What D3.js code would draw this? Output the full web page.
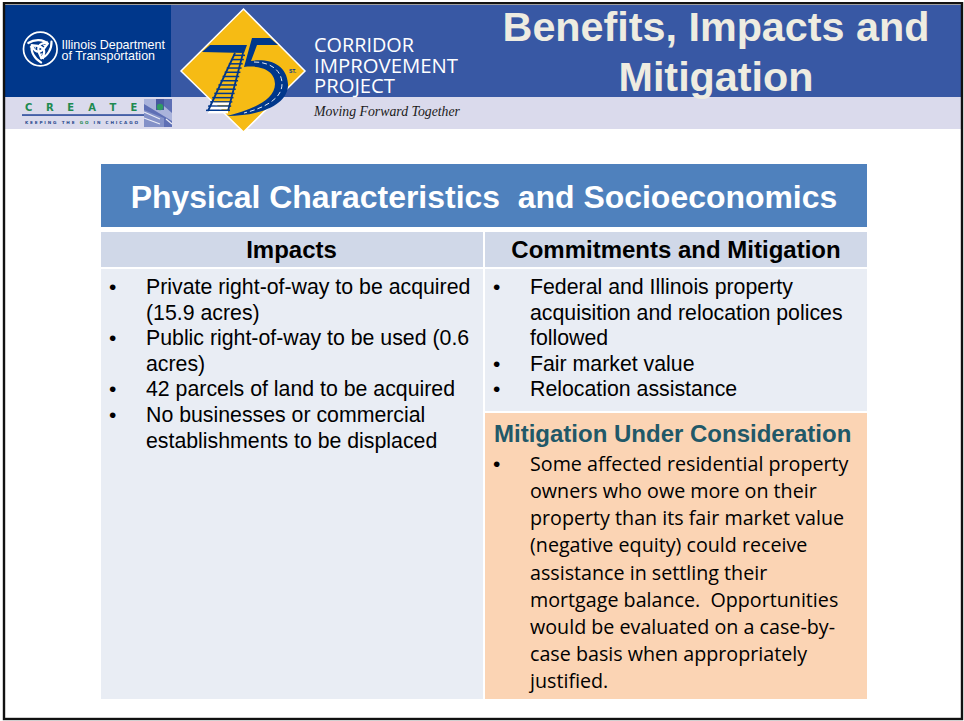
<!DOCTYPE html>
<html><head><meta charset="utf-8">
<style>html,body{margin:0;padding:0;background:#fff}svg{display:block}text{white-space:pre}</style>
<script src="https://cdnjs.cloudflare.com/ajax/libs/d3/7.8.5/d3.min.js"></script>
</head><body><div id="c"></div>
<script>
const slideTitle = ["Benefits, Impacts and","Mitigation"];
const projectLines = ["CORRIDOR","IMPROVEMENT","PROJECT"];
const tagline = "Moving Forward Together";
const agencyLines = ["Illinois Department","of Transportation"];
const createLetters = ["C","R","E","A","T","E"];
const createSlogan = ["KEEPING THE ","GO"," IN CHICAGO"];
const tableTitle = "Physical Characteristics  and Socioeconomics";
const columnHeads = ["Impacts","Commitments and Mitigation"];
const impactLines = [
 ["•","Private right-of-way to be acquired"],["","(15.9 acres)"],
 ["•","Public right-of-way to be used (0.6"],["","acres)"],
 ["•","42 parcels of land to be acquired"],
 ["•","No businesses or commercial"],["","establishments to be displaced"]];
const commitmentLines = [
 ["•","Federal and Illinois property"],["","acquisition and relocation polices"],["","followed"],
 ["•","Fair market value"],["•","Relocation assistance"]];
const considerationHead = "Mitigation Under Consideration";
const considerationLines = [
 ["•","Some affected residential property"],["","owners who owe more on their"],["","property than its fair market value"],
 ["","(negative equity) could receive"],["","assistance in settling their"],["","mortgage balance.  Opportunities"],
 ["","would be evaluated on a case-by-"],["","case basis when appropriately"],["","justified."]];

const W=964,H=721,ARIAL="'Liberation Sans',Arial,sans-serif",OPEN="'Open Sans','Noto Sans',sans-serif";
const NAVY="#00378b";
const svg=d3.select("#c").append("svg").attr("width",W).attr("height",H);
const rect=(x,y,w,h,f,p=svg)=>p.append("rect").attr("x",x).attr("y",y).attr("width",w).attr("height",h).attr("fill",f);
const text=(p,x,y,s,size,fill,o={})=>p.append("text").attr("x",x).attr("y",y).attr("font-family",o.family||ARIAL)
  .attr("font-size",size).attr("fill",fill).attr("font-weight",o.weight||"normal").attr("font-style",o.style||"normal")
  .attr("text-anchor",o.anchor||"start").attr("textLength",o.len||null).attr("lengthAdjust",o.len?(o.adjust||"spacingAndGlyphs"):null).text(s);

// header bands
rect(0,0,W,H,"#fff");
rect(5,5,166,92,NAVY);
rect(171,5,791,92,"#3858a4");
rect(5,97,957,32,"#dadaec");

// IDOT mark
const mark=svg.append("g").attr("transform","translate(40.3,49)");
mark.append("circle").attr("r",16.8).attr("fill","none").attr("stroke","#fff").attr("stroke-width",1.7);
[0,120,240].forEach(a=>{
  const g=mark.append("g").attr("transform",`rotate(${a})`).attr("fill","none").attr("stroke","#fff").attr("stroke-linecap","round");
  g.append("path").attr("d","M-12,-6 C-6,-10 3,-10 8,-5 C3,-7 -2,-5 -2,0 C-2,4 0,7 1,9").attr("stroke-width",2.2);
  g.append("path").attr("d","M-10,-2 C-7,-4 -5,-4 -5,-1").attr("stroke-width",1.1);
});
agencyLines.forEach((s,i)=>text(svg,61.5,49+i*11,s,13.4,"#fff",{len:i?93.5:103.5}));

// CREATE block
const createX=d3.scaleLinear().domain([0,5]).range([25,130.5]);
createLetters.forEach((s,i)=>text(svg,createX(i),110.8,s,10,"#1e8a50",{weight:"bold",family:"'DejaVu Sans',sans-serif"}));
rect(22,114.2,122,1.7,"#34529f");
const slogan=text(svg,25,123.5,"",4.2,"#2c4a8e",{weight:"bold",family:"'DejaVu Sans',sans-serif",len:113,adjust:"spacing"});
createSlogan.forEach((s,i)=>slogan.append("tspan").attr("fill",i===1?"#1e8a50":"#2c4a8e").text(s));
rect(144,99,28,28,"#5e6fb5");
svg.append("path").attr("d","M144,99 H156 L172,113 V121 L144,104Z").attr("fill","#aab3db");
svg.append("path").attr("d","M144,110 L164,118 V127 H144Z").attr("fill","#8391c8");
svg.append("path").attr("d","M144,112 L160,119 M144,118 L160,124 M166,119 L172,124").attr("stroke","#e8ebf6").attr("stroke-width",1.2).attr("fill","none");
rect(156,99,8,11,"#46589f");
svg.append("circle").attr("cx",160).attr("cy",107).attr("r",3.2).attr("fill","#2f9a63");

// diamond logo
const logo=svg.append("g");
logo.append("path").attr("d","M243.5,9 L305,71 L243.5,132 L181,71Z").attr("fill","#f6bb14").attr("stroke","#fff").attr("stroke-width",1.5);
logo.append("path").attr("d","M202,52 L210,45 L247,45 L244,53Z").attr("fill",NAVY);
// 5: top stroke, stem and road bowl
logo.append("path").attr("d","M252,38 L270,38 L278,45 L257,45 L251,61 C268,58 287,64 288,84 C289,104 262,116 227,116 C248,111 275,101 275,84 C275,69 258,65 244,67Z").attr("fill",NAVY);
logo.append("path").attr("d","M254,62 C270,62 282,70 282,84 C282,99 264,108 244,113").attr("fill","none").attr("stroke","#fff").attr("stroke-width",0.9).attr("stroke-dasharray","5 3");
// track
const tieT=d3.scaleLinear().domain([0,13]).range([0,1]);
const leftRail=d3.scaleLinear().domain([0,1]).range([235,208]);
const rightRail=d3.scaleLinear().domain([0,1]).range([243,228]);
const railY=d3.scaleLinear().domain([0,1]).range([55,110]);
rect(0,0,0,0,"none",logo);
d3.range(14).forEach(i=>{const t=tieT(i),y=railY(t);
  rect(leftRail(t)-2,y-0.4,rightRail(t)-leftRail(t)+4,1.5,NAVY,logo);
  if(i>=11) rect(leftRail(t),y+1,rightRail(t)-leftRail(t),2.4,"#fff",logo);
});
logo.append("path").attr("d",`M${leftRail(0)},${railY(0)-2} L${leftRail(1)},${railY(1)+1} M${rightRail(0)},${railY(0)-2} L${rightRail(1)},${railY(1)+1}`).attr("stroke",NAVY).attr("stroke-width",1.8).attr("fill","none");
text(logo,265,43,"th",7,NAVY,{style:"italic"});
text(logo,289,73,"ST.",5,NAVY,{weight:"bold"});

// project block
projectLines.forEach((s,i)=>text(svg,314,52+i*20.6,s,19.5,"#fff",{family:OPEN,len:[100,144,81][i]}));
text(svg,314,116,tagline,14,"#1a1a1a",{family:"'Liberation Serif',serif",style:"italic",len:146});

// slide title
slideTitle.forEach((s,i)=>text(svg,716,41+i*50,s,41.3,"#eeece1",{weight:"bold",anchor:"middle"}));

// table
rect(101,164,766,63,"#4f81bd");
rect(101,232,382,35,"#d0d8e8");
rect(485,232,382,35,"#d0d8e8");
rect(101,269,382,430,"#e9edf4");
rect(485,269,382,142,"#e9edf4");
rect(485,413,382,286,"#fbd4b4");
text(svg,484,208,tableTitle,31.95,"#fff",{weight:"bold",anchor:"middle"});
text(svg,291.5,258,columnHeads[0],24,"#000",{weight:"bold",anchor:"middle"});
text(svg,676,258,columnHeads[1],24,"#000",{weight:"bold",anchor:"middle"});

const list=(rows,bx,tx,y0,dy,size,family,sx=1)=>rows.forEach((r,i)=>{
  const y=y0+i*dy;
  if(r[0]) text(svg,bx,y,r[0],21,"#000",{});
  text(svg,0,y,r[1],size,"#000",{family}).attr("transform",`translate(${tx},0) scale(${sx},1)`);
});
list(impactLines,109,146,294,25.6,21.3,ARIAL);
list(commitmentLines,493,530,294,25.6,21.3,ARIAL);
text(svg,494,442,considerationHead,24,"#215868",{weight:"bold"});
list(considerationLines,493,530,471,27.15,20.2,OPEN,0.975);

// slide frame
svg.append("rect").attr("x",4).attr("y",3.2).attr("width",958).attr("height",715.8).attr("fill","none").attr("stroke","#111").attr("stroke-width",2.4);
</script></body></html>
